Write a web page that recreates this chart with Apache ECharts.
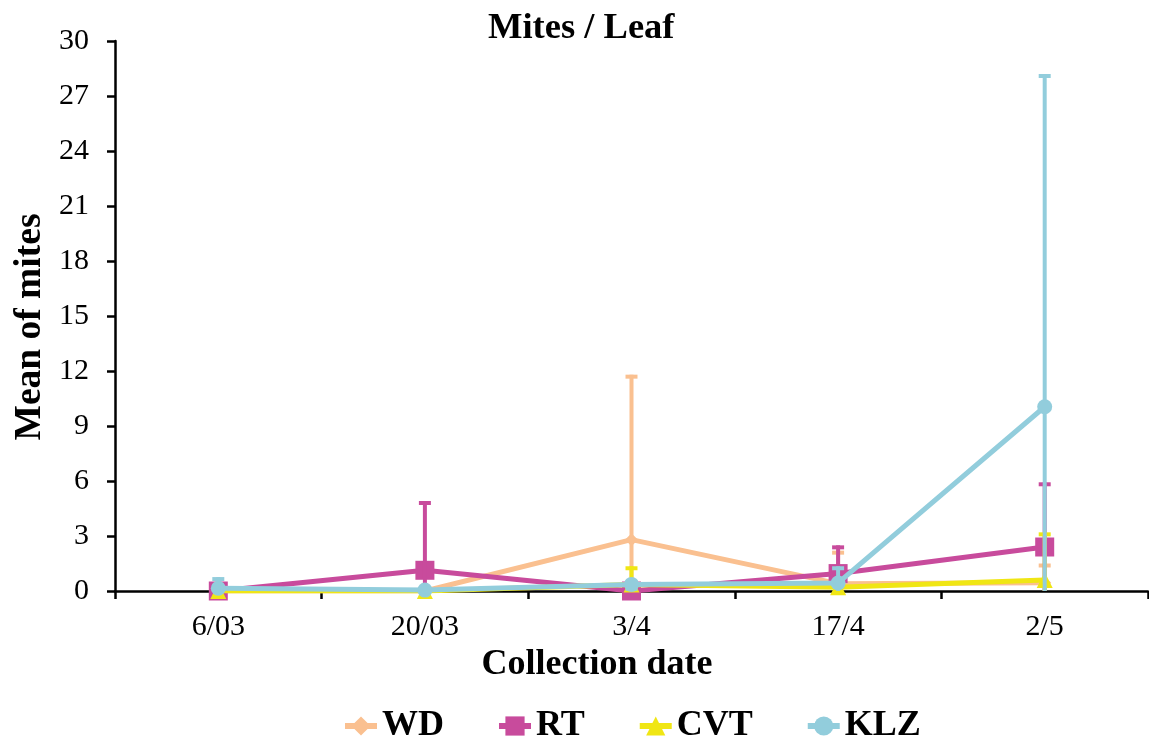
<!DOCTYPE html>
<html>
<head>
<meta charset="utf-8">
<script src="https://cdn.jsdelivr.net/npm/echarts@6/dist/echarts.min.js"></script>
<style>
html,body{margin:0;padding:0;background:#fff;}
#chart{width:1149px;height:740px;}
</style>
</head>
<body>
<div id="chart"></div>
<script>
const categories = ['6/03', '20/03', '3/4', '17/4', '2/5'];
const yTicks = [0, 3, 6, 9, 12, 15, 18, 21, 24, 27, 30];

const wd  = [0,    0,    2.80, 0.40, 0.45];
const rt  = [0,    1.13, 0,    0.95, 2.40];
const cvt = [0,    0,    0.35, 0.20, 0.60];
const klz = [0.15, 0.05, 0.36, 0.44, 10.05];

const wdErr  = [0,    0,    9.00, 1.80, 1.05];
const rtErr  = [0,    3.78, 0,    1.54, 3.53];
const cvtErr = [0,    0,    1.00, 0.30, 2.60];
const klzErr = [0.61, 0,    0.24, 0.91, 18.15];

const names  = ['WD', 'RT', 'CVT', 'KLZ'];
const colors = ['#FAC090', '#C84B9C', '#F0E614', '#92CDDC'];
const symbols = ['diamond', 'rect', 'triangle', 'circle'];
const symbolSizes = [13, 19, 16, 15];
const means = [wd, rt, cvt, klz];
const errs = [wdErr, rtErr, cvtErr, klzErr];

const FONT = 'Liberation Serif';

function errorRender(color) {
  return function (params, api) {
    const i = api.value(0), m = api.value(1), e = api.value(2);
    if (!e) return null;
    const top = api.coord([i, m + e]);
    const bot = api.coord([i, Math.max(m - e, 0)]);
    const children = [
      {type: 'line', shape: {x1: top[0], y1: top[1], x2: bot[0], y2: bot[1]},
       style: {stroke: color, lineWidth: 4}},
      {type: 'line', shape: {x1: top[0] - 6, y1: top[1] + 2, x2: top[0] + 6, y2: top[1] + 2},
       style: {stroke: color, lineWidth: 4}}
    ];
    if (m - e >= 0) {
      children.push({type: 'line', shape: {x1: bot[0] - 6, y1: bot[1], x2: bot[0] + 6, y2: bot[1]},
        style: {stroke: color, lineWidth: 4}});
    }
    return {type: 'group', children: children};
  };
}

const series = [];
names.forEach(function (n, k) {
  series.push({
    name: n, type: 'line', data: means[k],
    symbol: symbols[k], symbolSize: symbolSizes[k],
    showAllSymbol: true,
    lineStyle: {color: colors[k], width: 5},
    itemStyle: {color: colors[k]},
    z: 2 + k * 2,
    animation: false
  });
  series.push({
    name: n + '_err', type: 'custom',
    data: means[k].map(function (v, i) { return [i, v, errs[k][i]]; }),
    renderItem: errorRender(colors[k]),
    z: 3 + k * 2,
    animation: false,
    silent: true
  });
});

const chart = echarts.init(document.getElementById('chart'));
chart.setOption({
  backgroundColor: '#ffffff',
  animation: false,
  title: {
    text: 'Mites / Leaf', left: 483, top: 5,
    textStyle: {fontFamily: FONT, fontWeight: 'bold', fontSize: 36.5, color: '#000'}
  },
  legend: {
    data: names, left: 337, top: 703, itemGap: 52, itemWidth: 32, itemHeight: 24,
    lineStyle: {width: 6},
    textStyle: {fontFamily: FONT, fontWeight: 'bold', fontSize: 36, color: '#000'}
  },
  grid: {left: 115, right: 1, top: 41, bottom: 149, containLabel: false},
  xAxis: {
    type: 'category', data: categories, boundaryGap: true,
    axisLine: {lineStyle: {color: '#000', width: 2.5}},
    axisTick: {show: true, inside: false, length: 8, lineStyle: {color: '#000', width: 2.5}, alignWithLabel: false},
    axisLabel: {fontFamily: FONT, fontSize: 30, color: '#000', margin: 21},
    splitLine: {show: false}
  },
  yAxis: {
    type: 'value', min: yTicks[0], max: yTicks[yTicks.length - 1], interval: yTicks[1] - yTicks[0],
    axisLine: {show: true, lineStyle: {color: '#000', width: 2.5}},
    axisTick: {show: true, inside: false, length: 8, lineStyle: {color: '#000', width: 2.5}},
    axisLabel: {fontFamily: FONT, fontSize: 30, color: '#000', margin: 26},
    splitLine: {show: false}
  },
  graphic: [
    {type: 'text', x: 30, y: 327, rotation: Math.PI / 2,
     style: {text: 'Mean of mites', fontFamily: FONT, fontWeight: 'bold', fontSize: 37.5, fill: '#000',
             align: 'center', verticalAlign: 'middle'}},
    {type: 'text', x: 597, y: 665,
     style: {text: 'Collection date', fontFamily: FONT, fontWeight: 'bold', fontSize: 36, fill: '#000',
             align: 'center', verticalAlign: 'middle'}}
  ],
  series: series
});
</script>
</body>
</html>
